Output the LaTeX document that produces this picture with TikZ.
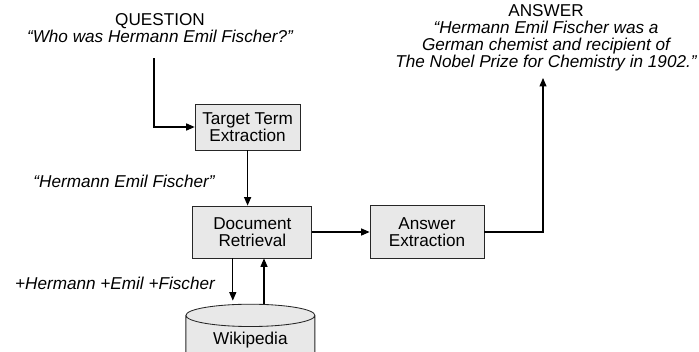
\documentclass[tikz,border=0pt]{standalone}
\usepackage{fontspec}
\setmainfont{Liberation Sans}
\usepackage{tikz}
\usetikzlibrary{positioning,arrows.meta,shapes.geometric}
\usepackage{xcolor}
\definecolor{boxgray}{RGB}{232,232,232}

\begin{document}
\begin{tikzpicture}[
        >={Triangle[length=6pt,width=5pt]},
        font=\fontsize{12.2}{12.2}\selectfont,
        conn/.style={->, line width=0.75pt},
        stage/.style={rectangle, draw=black!85, line width=0.6pt, fill=boxgray, align=center, inner sep=0pt},
        store/.style={cylinder, shape border rotate=90, aspect=0.3, draw=black!85, line width=0.6pt, fill=boxgray, inner sep=0pt},
        quote/.style={align=center, font=\fontsize{12.2}{12.2}\selectfont\itshape}
    ]
        \useasboundingbox (0,0) rectangle (17.475,-8.775);

        % Question and answer texts
        \node[align=center] (question) at (4.0,-0.7) {QUESTION\\{\itshape “Who was Hermann Emil Fischer?”}};
        \node[align=center] (answer_text) at (13.65,-0.95) {ANSWER\\{\itshape “Hermann Emil Fischer was a}\\{\itshape German chemist and recipient of}\\{\itshape The Nobel Prize for Chemistry in 1902.”}};

        % Pipeline stages
        \node[stage, minimum width=2.625cm, minimum height=1.15cm] (target) at (6.19,-3.175) {Target Term\\Extraction};
        \node[stage, minimum width=2.975cm, minimum height=1.3cm] (doc) at (6.31,-5.8) {Document\\Retrieval};
        \node[stage, minimum width=2.85cm, minimum height=1.325cm] (answer) at (10.675,-5.8) {Answer\\Extraction};
        \node[store, minimum width=3.225cm, minimum height=1.5cm] (wiki) at (6.26,-8.5) {Wikipedia};

        % Free ends of connectors
        \coordinate (q_start) at (3.85,-1.45);
        \coordinate (a_end) at (13.575,-1.95);

        % Edge labels
        \node[quote] (term_label) at (3.1,-4.525) {“Hermann Emil Fischer”};
        \node[quote] (query_label) at (2.875,-7.075) {+Hermann +Emil +Fischer};

        % Connections
        \draw[conn] (q_start) |- (target.west);
        \draw[conn] (target.south) -- (target.south |- doc.north);
        \draw[conn] (doc.east) -- (doc.east -| answer.west);
        \draw[conn] (answer.east) -| (a_end);
        \draw[conn] ([xshift=-0.49cm]doc.south) -- ([xshift=-0.49cm,yshift=0.08cm]doc.south |- wiki.north);
        \draw[conn] ([xshift=0.29cm]doc.south |- wiki.north) -- ([xshift=0.29cm]doc.south);
    \end{tikzpicture}
\end{document}
